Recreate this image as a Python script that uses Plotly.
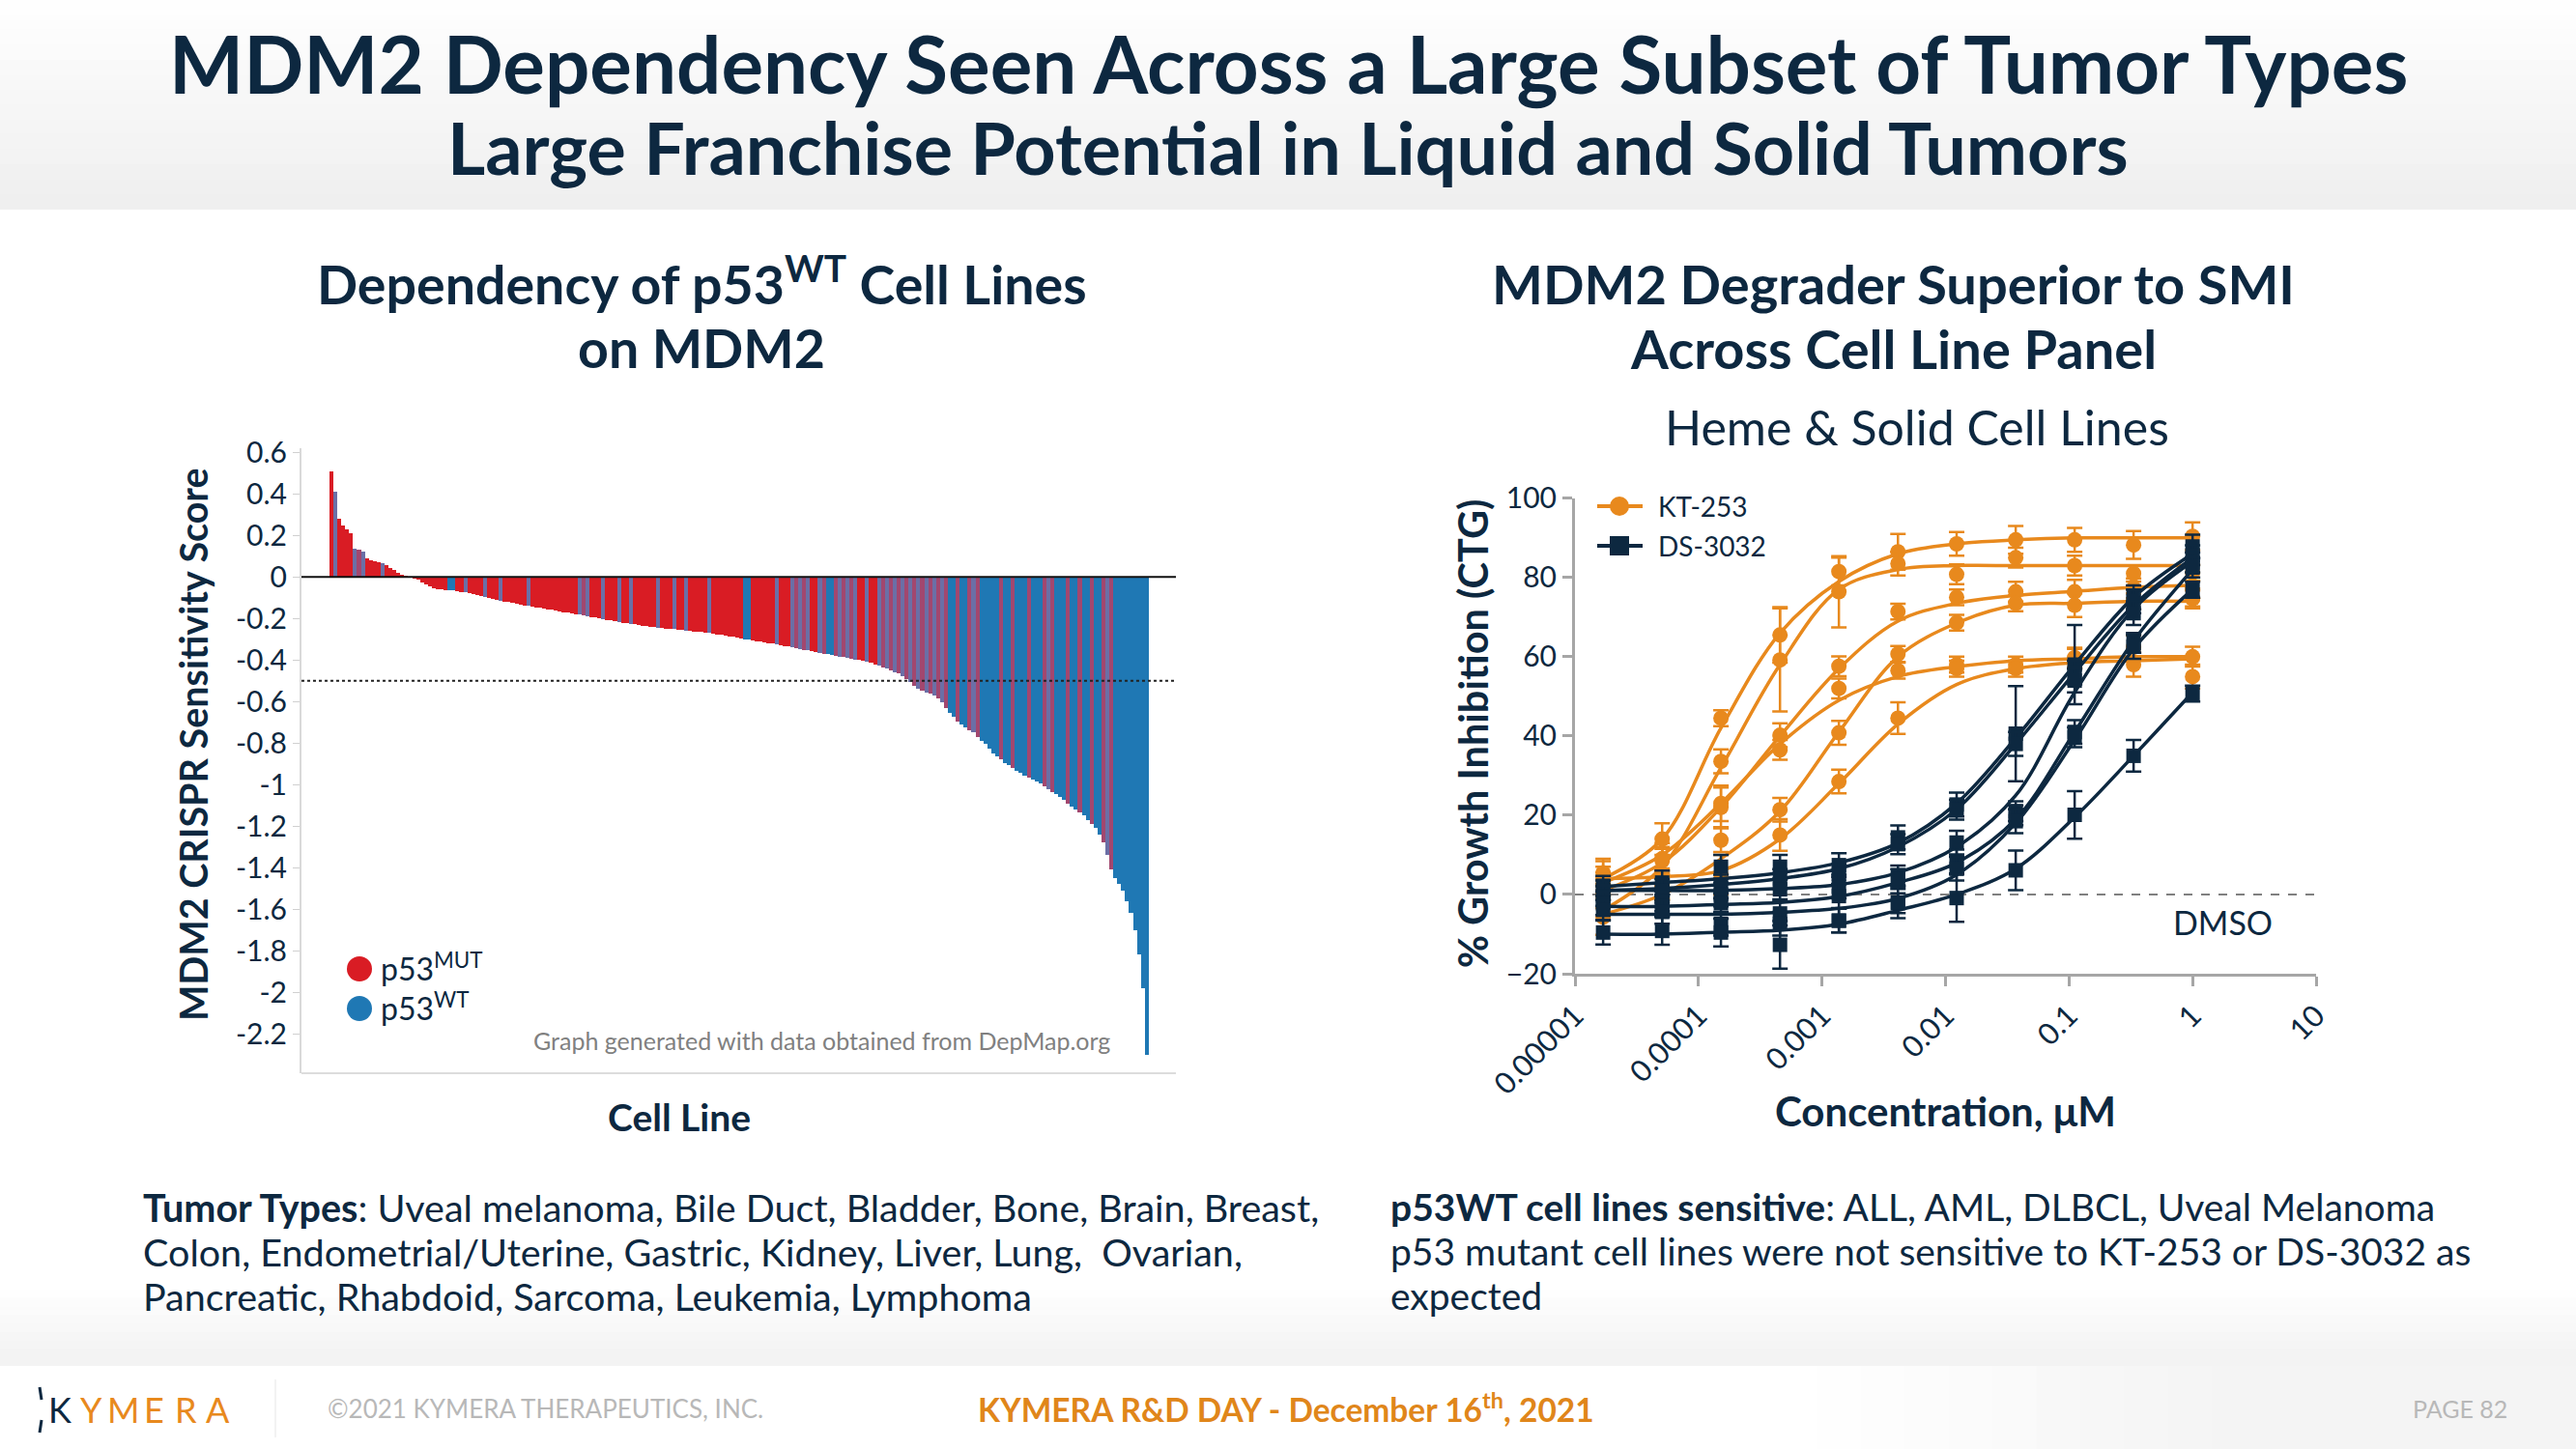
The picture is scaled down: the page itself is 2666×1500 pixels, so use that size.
import plotly.graph_objects as go

W, H = 2666, 1500
def X(px): return px / W
def Y(py): return 1 - py / H

NAVY = "#0d2840"
ORANGE = "#e8891d"
RED = "#d91c24"
BLUE = "#1f78b4"
GREY = "#a6a6a6"
FONT = "Lato"

# ---------------- Left chart data (sorted MDM2 CRISPR scores) ----------------
mdm2_scores = [
    0.51, 0.41, 0.28, 0.25, 0.23, 0.21, 0.135, 0.13, 0.12, 0.09,
    0.08, 0.075, 0.07, 0.065, 0.055, 0.045, 0.035, 0.02, 0.012, 0.006,
    -0.002, -0.008, -0.015, -0.025, -0.035, -0.045, -0.055, -0.058, -0.06, -0.062,
    -0.064, -0.066, -0.068, -0.072, -0.075, -0.078, -0.082, -0.086, -0.09, -0.095,
    -0.1, -0.105, -0.11, -0.114, -0.118, -0.121, -0.125, -0.128, -0.132, -0.136,
    -0.14, -0.143, -0.146, -0.149, -0.152, -0.156, -0.159, -0.162, -0.166, -0.169,
    -0.172, -0.175, -0.178, -0.182, -0.185, -0.188, -0.192, -0.196, -0.199, -0.203,
    -0.207, -0.21, -0.214, -0.217, -0.22, -0.223, -0.226, -0.229, -0.232, -0.234,
    -0.236, -0.239, -0.241, -0.244, -0.246, -0.248, -0.25, -0.252, -0.254, -0.256,
    -0.258, -0.26, -0.262, -0.264, -0.266, -0.268, -0.27, -0.273, -0.276, -0.279,
    -0.282, -0.285, -0.289, -0.293, -0.297, -0.3, -0.303, -0.306, -0.309, -0.312,
    -0.315, -0.318, -0.321, -0.324, -0.328, -0.332, -0.336, -0.34, -0.343, -0.346,
    -0.35, -0.354, -0.358, -0.362, -0.366, -0.37, -0.373, -0.376, -0.38, -0.384,
    -0.387, -0.39, -0.394, -0.397, -0.4, -0.404, -0.408, -0.414, -0.42, -0.427,
    -0.435, -0.442, -0.45, -0.457, -0.466, -0.477, -0.49, -0.505, -0.525, -0.538,
    -0.547, -0.555, -0.562, -0.572, -0.585, -0.605, -0.63, -0.655, -0.675, -0.695,
    -0.71, -0.725, -0.738, -0.75, -0.77, -0.79, -0.805, -0.825, -0.85, -0.865,
    -0.88, -0.895, -0.905, -0.92, -0.935, -0.945, -0.955, -0.965, -0.975, -0.985,
    -0.995, -1.01, -1.02, -1.035, -1.045, -1.06, -1.075, -1.09, -1.105, -1.12,
    -1.135, -1.15, -1.17, -1.19, -1.21, -1.24, -1.28, -1.34, -1.41, -1.45,
    -1.48, -1.51, -1.56, -1.62, -1.7, -1.82, -1.98, -2.3,
]
# M = p53 mutant, W = p53 wild type
p53_status = (
    "MWMMMMWMWM" "MMMWMMMMMM" "MMMMMMMMMM" "WWMMWMMMMW" "MMMWMMMMMM"
    "WMMMMMMMMM" "MMMWMWMMMW" "MMMWMMWMMM" "MMMWMMMWMM" "WMMMMMWMMM"
    "MMMMMWWMMM" "MMMWMMMWMW" "MWMMWMWWMW" "MWMWMMWMMW" "MWMWMWMWMW"
    "MWMWMWMWWM" "WWMWMWWWWW" "MWWMWWWMWW" "WMWMWWWMWW" "MWWMWWMWMW"
    "WWWWWWWW"
)
score_ticks = [0.6, 0.4, 0.2, 0, -0.2, -0.4, -0.6, -0.8, -1, -1.2, -1.4, -1.6, -1.8, -2, -2.2]
score_ticktext = ["0.6", "0.4", "0.2", "0", "-0.2", "-0.4", "-0.6", "-0.8", "-1", "-1.2",
                  "-1.4", "-1.6", "-1.8", "-2", "-2.2"]
sensitivity_cutoff = -0.5

# ---------------- Right chart data (dose response, % growth inhibition) ----------------
conc_um = [0.0000169, 0.0000508, 0.000152, 0.000457, 0.00137, 0.00412, 0.0123, 0.037, 0.111, 0.333, 1.0]
conc_ticks = [0.00001, 0.0001, 0.001, 0.01, 0.1, 1, 10]
conc_ticktext = ["0.00001", "0.0001", "0.001", "0.01", "0.1", "1", "10"]

# KT-253 (six cell lines): fitted curve values, measured means, error
kt_fit = [
    [4, 14, 42, 66, 79, 86, 88.5, 89.5, 90, 90, 90],
    [-4, 7, 32, 58, 77, 82, 83, 83, 83, 83, 83],
    [1, 8, 22, 40, 57, 69, 73.5, 75.5, 76.5, 77.5, 78],
    [-5, 0, 9, 21, 41, 60, 68.5, 73, 73.5, 74, 74],
    [3, 10, 23, 38, 49, 55, 57.5, 59, 59.5, 60, 60],
    [4, 4.5, 6, 14, 28, 43, 53, 57, 58.5, 59, 59.5],
]
kt_mean = [
    [5.5, 14, 44.5, 65.5, 81.5, 86.5, 88.5, 89.5, 89.5, 88.2, 90.4],
    [-0.4, 9, 33.6, 59.2, 76.4, 83.5, 80.8, 85, 83, 81, 81.2],
    [2.6, 8.5, 23, 40.2, 57.6, 71.4, 75, 76.4, 76.4, 77.3, 74.7],
    [-5.7, 2, 13.7, 21.4, 40.8, 60.7, 68.6, 73.5, 73, 74, 74.7],
    [4, 9, 22, 36.5, 52, 56.5, 58, 58, 59.8, 62.4, 60],
    [4.4, 2.6, 5, 15, 28.5, 44.5, 57, 57, 59.5, 58, 55],
]
kt_err = [
    [3.5, 4, 2, 7, 3.5, 4.5, 3, 3.5, 3, 3.5, 3.5],
    [3, 3, 3, 13, 9, 3, 2.5, 2.5, 2.5, 2, 2],
    [3, 3, 4.5, 3, 2.5, 2, 2, 2.5, 3, 2.5, 2.5],
    [4.5, 3, 3, 3, 3, 2, 2, 2, 3, 2, 2],
    [3, 4, 5, 2.5, 2.5, 2, 2, 2, 2.5, 3, 2.5],
    [4, 4, 5, 4, 3, 4, 2, 2, 2.5, 3, 3],
]
# DS-3032 (six cell lines)
ds_fit = [
    [2, 3, 4, 5.5, 8, 13, 23, 39.5, 58, 75, 86],
    [1, 1.5, 2.5, 4, 6.5, 12, 21.5, 38, 56, 73, 85],
    [1, 1, 1, 1.5, 2.5, 5.5, 12, 25, 51, 72, 84],
    [-3, -3, -2.5, -2, -0.5, 3, 8, 19, 41, 64, 82],
    [-5, -5, -5, -4.5, -3.5, -1, 5, 18, 39, 62, 77],
    [-10, -10, -9.5, -9, -7.5, -4, 0, 6.5, 19.5, 35, 51],
]
ds_mean = [
    [2.2, 3, 7, 7, 7.4, 14.4, 22.7, 40.6, 58, 75, 87.8],
    [1, 0.9, 2, 3.9, 5.2, 12.7, 21.4, 38, 56, 74, 85.6],
    [-0.4, -1.7, 0, 1.3, 2, 4.8, 13.1, 21, 54, 71, 83.8],
    [-2.2, -3, -2.2, -4.8, -0.4, 3.9, 8.3, 20, 41, 63.5, 82.5],
    [-3.9, -4.4, -7.4, -7.4, -6.6, -2.2, 6.5, 18.5, 39.7, 62.5, 76.9],
    [-9.6, -9.2, -9.6, -12.7, -6.6, -2, -0.9, 6.1, 20.1, 35, 50.7],
]
ds_err = [
    [2.5, 3, 3, 3, 3, 3, 3, 12, 10, 3, 3],
    [2.5, 3, 3, 2.5, 2.5, 2.5, 2.5, 3, 3, 3, 2.5],
    [2.5, 2.5, 3, 2.5, 3, 2.5, 3, 2.5, 3, 3, 2.5],
    [3, 2.5, 2.5, 3, 3, 2.5, 3, 2.5, 3, 2.5, 2.5],
    [2.5, 3, 3, 3, 3, 2.5, 3, 3, 2.5, 3, 2],
    [3, 3.5, 3.5, 6, 3, 4, 6, 5, 6, 4, 2],
]

fig = go.Figure()

# ---------------- Left chart bars ----------------
n = len(mdm2_scores)
bar_colors = []
for i, s in enumerate(p53_status):
    left = p53_status[i - 1] if i > 0 else s
    right = p53_status[i + 1] if i < n - 1 else s
    isolated = (left != s and right != s)
    if s == "M":
        bar_colors.append("#a2476f" if isolated else RED)
    else:
        bar_colors.append("#6b6fa6" if isolated else BLUE)

fig.add_trace(go.Bar(
    x=list(range(n)), y=mdm2_scores, marker=dict(color=bar_colors, line=dict(width=0)),
    width=1.0, xaxis="x", yaxis="y", showlegend=False, hoverinfo="skip",
))

# ---------------- Right chart curves ----------------
for fit, mean, err, color, symbol in [
    (kt_fit, kt_mean, kt_err, ORANGE, "circle"),
    (ds_fit, ds_mean, ds_err, NAVY, "square"),
]:
    for f in fit:
        fig.add_trace(go.Scatter(
            x=conc_um, y=f, mode="lines", line=dict(color=color, width=3.5, shape="spline", smoothing=1.0),
            xaxis="x2", yaxis="y2", showlegend=False, hoverinfo="skip",
        ))
    for m, e in zip(mean, err):
        fig.add_trace(go.Scatter(
            x=conc_um, y=m, mode="markers",
            marker=dict(symbol=symbol, size=16 if symbol == "circle" else 15, color=color, line=dict(width=0)),
            error_y=dict(type="data", array=e, color=color, thickness=2.5, width=8),
            xaxis="x2", yaxis="y2", showlegend=False, hoverinfo="skip",
        ))

shapes = []
annotations = []

def rect(x0, y0, x1, y1, color, layer="below"):
    shapes.append(dict(type="rect", xref="paper", yref="paper", x0=X(x0), x1=X(x1), y0=Y(y1), y1=Y(y0),
                       fillcolor=color, line=dict(width=0), layer=layer))

def text(x, y, s, size, color=NAVY, xanchor="center", yanchor="middle", bold=False, angle=0, family=FONT):
    annotations.append(dict(x=X(x), y=Y(y), xref="paper", yref="paper", text=f"<b>{s}</b>" if bold else s,
                            showarrow=False, xanchor=xanchor, yanchor=yanchor, textangle=angle,
                            font=dict(family=family, size=size, color=color)))

# header gradient
steps = 14
for i in range(steps):
    c = int(255 - 16 * (i + 0.5) / steps)
    rect(0, 216 * i / steps, W, 216 * (i + 1) / steps + 1, f"rgb({c},{c},{c})")
# bottom gradient above footer
steps = 8
for i in range(steps):
    c = int(255 - 12 * (i + 0.5) / steps)
    rect(0, 1335 + 70 * i / steps, W, 1335 + 70 * (i + 1) / steps + 1, f"rgb({c},{c},{c})")
rect(0, 1404, W, 1414, "rgb(243,243,243)")
# footer right gradient
steps = 10
for i in range(steps):
    c = int(255 - 11 * (i + 0.5) / steps)
    rect(1880 + 455 * i / steps, 1414, 1880 + 455 * (i + 1) / steps + 1, H, f"rgb({c},{c},{c})")
rect(2334, 1414, W, H, "rgb(244,244,244)")

# left chart reference lines
shapes.append(dict(type="line", xref="x domain", yref="y", x0=0, x1=1, y0=0, y1=0,
                   line=dict(color="#111111", width=2)))
shapes.append(dict(type="line", xref="x domain", yref="y", x0=0, x1=1, y0=sensitivity_cutoff, y1=sensitivity_cutoff,
                   line=dict(color="#222222", width=2, dash="dot")))
shapes.append(dict(type="line", xref="x domain", yref="y domain", x0=0, x1=1, y0=0, y1=0,
                   line=dict(color="#dcdcdc", width=2)))

# right chart DMSO line
shapes.append(dict(type="line", xref="x2", yref="y2", x0=conc_ticks[0], x1=conc_ticks[-1], y0=0, y1=0,
                   line=dict(color="#808080", width=2, dash="dash"), layer="below"))

# left legend (circles)
for cy, col, lab in [(1003, RED, "p53<sup>MUT</sup>"), (1044, BLUE, "p53<sup>WT</sup>")]:
    r = 13
    shapes.append(dict(type="circle", xref="paper", yref="paper", x0=X(372 - r), x1=X(372 + r),
                       y0=Y(cy + r), y1=Y(cy - r), fillcolor=col, line=dict(width=0)))
    text(392, cy - 2, lab, 32, xanchor="left")

# right legend
for cy, col, lab, sym in [(524, ORANGE, "KT-253", "circle"), (565, NAVY, "DS-3032", "square")]:
    shapes.append(dict(type="line", xref="paper", yref="paper", x0=X(1653), x1=X(1700), y0=Y(cy), y1=Y(cy),
                       line=dict(color=col, width=4)))
    r = 10
    shapes.append(dict(type=("circle" if sym == "circle" else "rect"), xref="paper", yref="paper",
                       x0=X(1676 - r), x1=X(1676 + r), y0=Y(cy + r), y1=Y(cy - r), fillcolor=col, line=dict(width=0)))
    text(1714, cy, lab, 28, xanchor="left")

# footer separator and logo marks
shapes.append(dict(type="line", xref="paper", yref="paper", x0=X(285), x1=X(285), y0=Y(1428), y1=Y(1488),
                   line=dict(color="#e6e6e6", width=1)))
shapes.append(dict(type="line", xref="paper", yref="paper", x0=X(41), x1=X(43), y0=Y(1436), y1=Y(1449),
                   line=dict(color=NAVY, width=3)))
shapes.append(dict(type="line", xref="paper", yref="paper", x0=X(43), x1=X(41), y0=Y(1470), y1=Y(1483),
                   line=dict(color=NAVY, width=3)))

# titles
text(1333, 65, "MDM2 Dependency Seen Across a Large Subset of Tumor Types", 81.7, bold=True)
text(1333, 152, "Large Franchise Potential in Liquid and Solid Tumors", 75.5, bold=True)
text(726, 290, "Dependency of p53<sup>WT</sup> Cell Lines", 55.5, bold=True)
text(726, 359, "on MDM2", 55.5, bold=True)
text(1960, 294, "MDM2 Degrader Superior to SMI", 56, bold=True)
text(1960, 360, "Across Cell Line Panel", 56, bold=True)
text(1984, 442, "Heme &amp; Solid Cell Lines", 50)

# axis titles
text(199, 771, "MDM2 CRISPR Sensitivity Score", 39.5, bold=True, angle=-90)
text(703, 1156, "Cell Line", 39, bold=True)
text(1524, 760, "% Growth Inhibition (CTG)", 41.5, bold=True, angle=-90)
text(2013, 1150, "Concentration, μM", 42, bold=True)
text(1151, 1077, "Graph generated with data obtained from DepMap.org", 25, color="#808080", xanchor="right")
text(2300, 954, "DMSO", 34)

# bottom text
lines_left = [
    "<b>Tumor Types</b>: Uveal melanoma, Bile Duct, Bladder, Bone, Brain, Breast,",
    "Colon, Endometrial/Uterine, Gastric, Kidney, Liver, Lung,\u00a0 Ovarian,",
    "Pancreatic, Rhabdoid, Sarcoma, Leukemia, Lymphoma",
]
lines_right = [
    "<b>p53WT cell lines sensitive</b>: ALL, AML, DLBCL, Uveal Melanoma",
    "p53 mutant cell lines were not sensitive to KT-253 or DS-3032 as",
    "expected",
]
for i, (l, r) in enumerate(zip(lines_left, lines_right)):
    yy = 1249 + 46 * i
    text(146, yy, l, 39.5, xanchor="left")
    text(1437, yy, r, 39, xanchor="left")

# footer
text(337, 1458, "©2021 KYMERA THERAPEUTICS, INC.", 26, color="#b8b8b8", xanchor="left")
text(1331, 1457, "KYMERA R&amp;D DAY - December 16<sup>th</sup>, 2021", 33.5, color="#e0861a", bold=True)
text(2597, 1458, "PAGE 82", 25, color="#b8b8b8", xanchor="right")
for i, ch in enumerate("KYMERA"):
    text(62 + 32.6 * i, 1459, ch, 36, color=(NAVY if i == 0 else ORANGE))

axis_common = dict(automargin=False, showgrid=False, zeroline=False)
fig.update_layout(
    template="none",
    width=W, height=H, margin=dict(l=0, r=0, t=0, b=0, pad=0, autoexpand=False),
    paper_bgcolor="white", plot_bgcolor="rgba(0,0,0,0)",
    bargap=0, showlegend=False,
    font=dict(family=FONT, color=NAVY),
    xaxis=dict(domain=[X(312), X(1217)], range=[-7.6, 214.4], showticklabels=False, showline=False,
               ticks="", anchor="y", **axis_common),
    yaxis=dict(domain=[Y(1111), Y(464)], range=[-2.39, 0.62], tickvals=score_ticks, ticktext=score_ticktext,
               ticks="outside", ticklen=7, tickwidth=1, tickcolor="#d0d0d0", showline=True, linecolor="#d9d9d9",
               linewidth=2, tickfont=dict(family=FONT, size=30, color=NAVY), anchor="x", **axis_common),
    xaxis2=dict(type="log", domain=[X(1630), X(2397)], range=[-5, 1], tickvals=conc_ticks, ticktext=conc_ticktext,
                tickangle=-45, ticks="outside", ticklen=10, tickwidth=3, tickcolor=GREY, showline=True,
                linecolor=GREY, linewidth=3, tickfont=dict(family=FONT, size=31, color=NAVY), anchor="y2",
                **axis_common),
    yaxis2=dict(domain=[Y(1008), Y(515.8)], range=[-20, 100], tickvals=[-20, 0, 20, 40, 60, 80, 100],
                ticks="outside", ticklen=10, tickwidth=3, tickcolor=GREY, showline=True, linecolor=GREY,
                linewidth=3, tickfont=dict(family=FONT, size=30, color=NAVY), anchor="x2", **axis_common),
    shapes=shapes, annotations=annotations,
)

fig.write_html("out.html", config={"displayModeBar": False},
               post_script="document.body.style.margin='0';document.body.style.padding='0';")
